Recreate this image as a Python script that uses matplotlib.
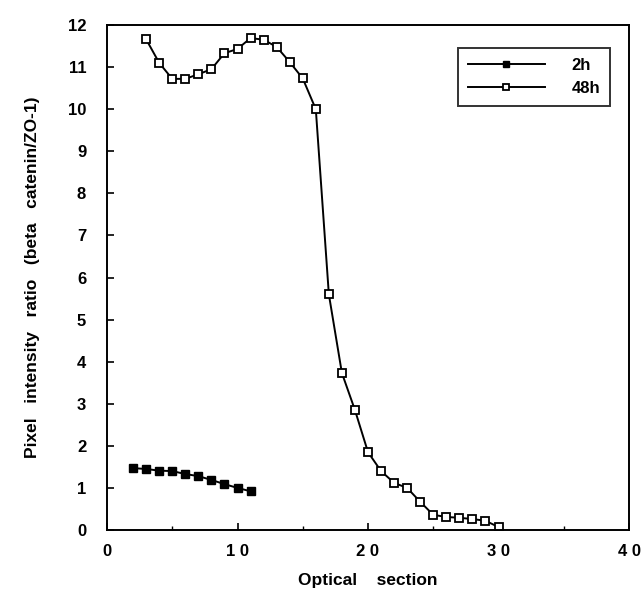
import matplotlib
matplotlib.use("Agg")
import matplotlib.pyplot as plt
from matplotlib.ticker import MultipleLocator, FixedLocator, FixedFormatter

plt.rcParams['font.family'] = ['Liberation Sans', 'DejaVu Sans']

x_2h = [2, 3, 4, 5, 6, 7, 8, 9, 10, 11]
y_2h = [1.47, 1.45, 1.41, 1.40, 1.33, 1.28, 1.19, 1.09, 1.00, 0.92]

x_48h = list(range(3, 31))
y_48h = [11.66, 11.10, 10.72, 10.72, 10.83, 10.95, 11.33, 11.43, 11.69, 11.65,
         11.48, 11.12, 10.73, 10.00, 5.60, 3.73, 2.85, 1.85, 1.40, 1.12,
         1.00, 0.67, 0.36, 0.31, 0.29, 0.26, 0.22, 0.07]

xtick_vals = [0, 10, 20, 30, 40]
xtick_labels = ['0', '1 0', '2 0', '3 0', '4 0']
ytick_vals = list(range(0, 13))

fig = plt.figure(figsize=(6.44, 6.03), dpi=100)
ax = fig.add_axes([107/644, 1-530/603, (629-107)/644, (530-25)/603])

ax.plot(x_2h, y_2h, color='black', lw=1.4, marker='s', ms=6,
        mfc='black', mec='black', label='2h')
ax.plot(x_48h, y_48h, color='black', lw=1.4, marker='s', ms=6,
        mfc='white', mec='black', mew=1.3, label='48h')

ax.set_xlim(0, 40)
ax.set_ylim(0, 12)
ax.xaxis.set_major_locator(FixedLocator(xtick_vals))
ax.xaxis.set_major_formatter(FixedFormatter(xtick_labels))
ax.xaxis.set_minor_locator(MultipleLocator(5))
ax.set_yticks(ytick_vals)
ax.tick_params(axis='both', which='both', direction='in', labelsize=12)
ax.tick_params(axis='both', which='major', length=5, width=1.2)
ax.tick_params(axis='x', which='minor', length=3, width=1)
ax.tick_params(axis='x', pad=10)
ax.tick_params(axis='y', pad=15)
for lab in ax.get_xticklabels() + ax.get_yticklabels():
    lab.set_fontweight('bold')
for sp in ax.spines.values():
    sp.set_linewidth(1.4)

ax.set_xlabel('Optical    section', fontsize=12.5, fontweight='bold', labelpad=10)
ax.set_ylabel('Pixel   intensity   ratio   (beta   catenin/ZO-1)', fontsize=12.5,
              fontweight='bold', labelpad=20)

leg = ax.legend(loc='upper right', bbox_to_anchor=(610/644, 1-48/603),
                bbox_transform=fig.transFigure, borderaxespad=0,
                frameon=True, fancybox=False,
                edgecolor='black', fontsize=12, handlelength=4.6, markerscale=0.8,
                borderpad=0.6, labelspacing=0.5, handletextpad=1.6)
leg.get_frame().set_linewidth(1.4)
for t in leg.get_texts():
    t.set_fontweight('bold')

fig.savefig('out.png', dpi=100)
